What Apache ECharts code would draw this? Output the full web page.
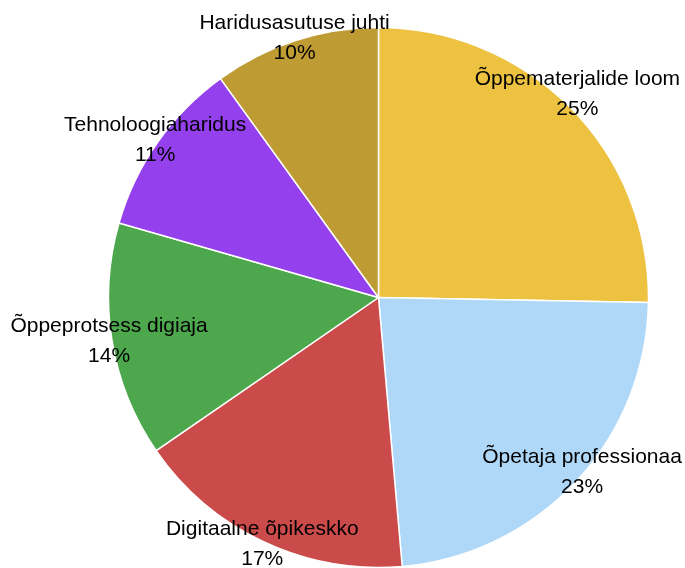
<!DOCTYPE html>
<html>
<head>
<meta charset="utf-8">
<script src="https://cdn.jsdelivr.net/npm/echarts@6/dist/echarts.min.js"></script>
<style>
  html, body { margin: 0; padding: 0; background: #fff; }
  #pie { width: 685px; height: 568px; }
</style>
</head>
<body>
<div id="pie"></div>
<script>
var names = ['Õppematerjalide loom', 'Õpetaja professionaa', 'Digitaalne õpikeskko',
             'Õppeprotsess digiaja', 'Tehnoloogiaharidus', 'Haridusasutuse juhti'];
var values = [25.3, 23.3, 16.8, 14.05, 10.6, 9.95];
var colors = ['#edc240', '#afd8f8', '#cb4b4b', '#4da74d', '#9440ed', '#be9b33'];

var myChart = echarts.init(document.getElementById('pie'));

var sliceData = [];
var labelData = [];
names.forEach(function (name, i) {
    sliceData.push({ name: name, value: values[i], itemStyle: { color: colors[i] } });
    var item = { name: name, value: values[i] };
    // the two labels on the right sit a bit higher in the original
    if (i < 2) {
        item.label = { offset: [4, -12] };
    }
    labelData.push(item);
});

var option = {
    animation: false,
    series: [
        {
            type: 'pie',
            center: [378.5, 297.5],
            radius: 270,
            startAngle: 90,
            clockwise: true,
            silent: true,
            label: { show: false },
            labelLine: { show: false },
            itemStyle: { borderColor: '#fff', borderWidth: 1.5 },
            data: sliceData
        },
        {
            // invisible ring, only carries the labels on the pie edge
            type: 'pie',
            center: [378.5, 297.5],
            radius: [260, 280],
            startAngle: 90,
            clockwise: true,
            silent: true,
            itemStyle: { color: 'rgba(0,0,0,0)', borderWidth: 0 },
            label: {
                show: true,
                position: 'inside',
                rotate: 0,
                color: '#000',
                fontFamily: 'Liberation Sans, Arial, sans-serif',
                fontSize: 21,
                lineHeight: 30,
                formatter: function (p) {
                    return p.name + '\n' + Math.round(p.percent) + '%';
                }
            },
            labelLine: { show: false },
            data: labelData
        }
    ]
};
myChart.setOption(option);
</script>
</body>
</html>
